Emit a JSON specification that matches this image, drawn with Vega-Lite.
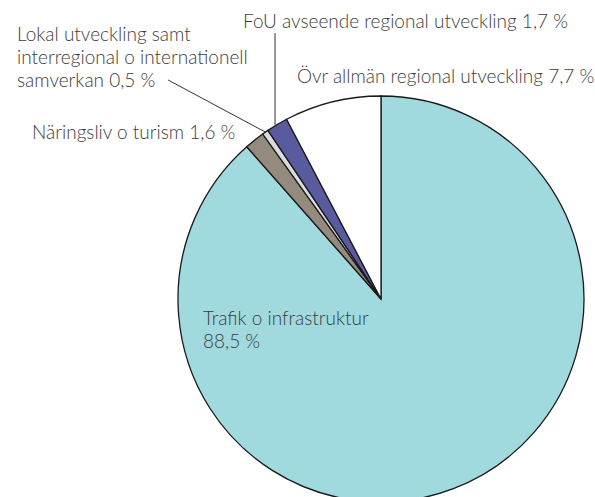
{
  "$schema": "https://vega.github.io/schema/vega-lite/v6.json",
  "width": 406,
  "height": 396,
  "autosize": {"type": "none"},
  "padding": {"left": 178, "top": 101, "right": 11, "bottom": 0},
  "background": "white",
  "config": {"view": {"stroke": null}},
  "datasets": {
    "slices": [
      {"category": "Trafik o infrastruktur", "share": 88.5, "ord": 1},
      {"category": "Näringsliv o turism", "share": 1.6, "ord": 2},
      {"category": "Lokal utveckling samt interregional o internationell samverkan", "share": 0.5, "ord": 3},
      {"category": "FoU avseende regional utveckling", "share": 1.7, "ord": 4},
      {"category": "Övr allmän regional utveckling", "share": 7.7, "ord": 5}
    ],
    "labels": [
      {"text": "Lokal utveckling samt", "x": -1.793, "y": 1.271},
      {"text": "interregional o internationell", "x": -1.793, "y": 1.158},
      {"text": "samverkan 0,5 %", "x": -1.793, "y": 1.044},
      {"text": "Näringsliv o turism 1,6 %", "x": -1.719, "y": 0.788},
      {"text": "FoU avseende regional utveckling 1,7 %", "x": -0.68, "y": 1.335},
      {"text": "Övr allmän regional utveckling 7,7 %", "x": -0.414, "y": 1.064},
      {"text": "Trafik o infrastruktur", "x": -0.877, "y": -0.128},
      {"text": "88,5 %", "x": -0.877, "y": -0.241}
    ],
    "leaders": [
      {"label": "Lokal", "x1": -1.049, "y1": 1.079, "x2": -0.571, "y2": 0.823},
      {"label": "FoU", "x1": -0.522, "y1": 1.31, "x2": -0.522, "y2": 0.857}
    ]
  },
  "layer": [
    {
      "data": {"name": "slices"},
      "mark": {"type": "arc", "outerRadius": 203, "stroke": "#1a1a1a", "strokeWidth": 1.3},
      "encoding": {
        "theta": {"field": "share", "type": "quantitative", "stack": true},
        "order": {"field": "ord", "type": "quantitative"},
        "color": {
          "field": "category",
          "type": "nominal",
          "scale": {
            "domain": ["Trafik o infrastruktur", "Näringsliv o turism", "Lokal utveckling samt interregional o internationell samverkan", "FoU avseende regional utveckling", "Övr allmän regional utveckling"],
            "range": ["#a0d9de", "#948a7e", "#d9dcdd", "#5a5b9f", "#ffffff"]
          },
          "legend": null
        }
      }
    },
    {
      "data": {"name": "leaders"},
      "mark": {"type": "rule", "stroke": "#333333", "strokeWidth": 1},
      "encoding": {
        "x": {"field": "x1", "type": "quantitative", "scale": {"domain": [-1, 1], "nice": false, "zero": false}, "axis": null},
        "y": {"field": "y1", "type": "quantitative", "scale": {"domain": [-0.9754, 0.9754], "nice": false, "zero": false}, "axis": null},
        "x2": {"field": "x2"},
        "y2": {"field": "y2"}
      }
    },
    {
      "data": {"name": "labels"},
      "mark": {"type": "text", "align": "left", "baseline": "alphabetic", "font": "Lato", "fontSize": 19, "fontWeight": 300, "color": "#3c3c3c"},
      "encoding": {
        "x": {"field": "x", "type": "quantitative", "scale": {"domain": [-1, 1], "nice": false, "zero": false}, "axis": null},
        "y": {"field": "y", "type": "quantitative", "scale": {"domain": [-0.9754, 0.9754], "nice": false, "zero": false}, "axis": null},
        "text": {"field": "text", "type": "nominal"}
      }
    }
  ]
}
